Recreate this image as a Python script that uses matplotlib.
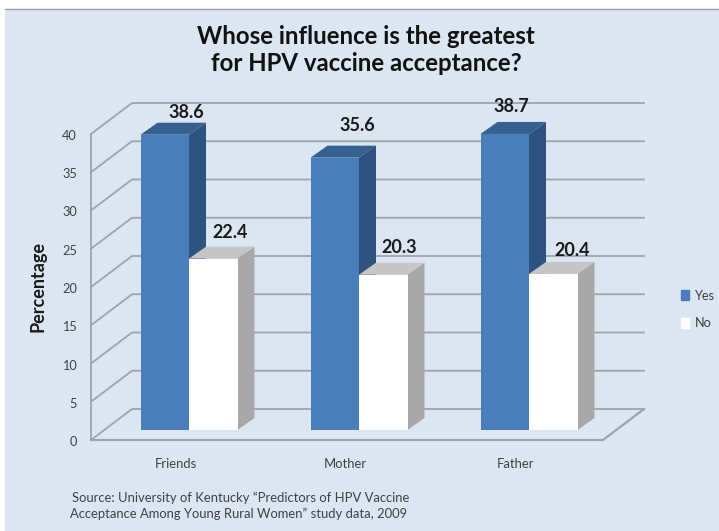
import matplotlib
matplotlib.use("Agg")
import matplotlib.pyplot as plt
from matplotlib.patches import Patch, Rectangle

categories = ["Friends", "Mother", "Father"]
yes_values = [38.6, 35.6, 38.7]
no_values = [22.4, 20.3, 20.4]
y_ticks = [0, 5, 10, 15, 20, 25, 30, 35, 40]

W, H = 719, 531
PX_X = 170.0          # pixels per category
PX_Y = 7.65           # pixels per percent
X0, Y0 = 189.0, 430.0 # pixel of category 0 / of value 0 on the bar plane

def dx(px):
    return px / PX_X

def dy(px):
    return px / PX_Y

BG = "#dce6f2"
GRID = "#a0a4a9"
TXT = "#1a1a1a"
SOFT = "#404040"
plt.rcParams["font.family"] = ["Lato", "DejaVu Sans"]

fig = plt.figure(figsize=(W / 100, H / 100), dpi=100, facecolor="white")
ax = fig.add_axes([0, 0, 1, 1])
ax.set_xlim(-X0 / PX_X, (W - X0) / PX_X)
ax.set_ylim((Y0 - H) / PX_Y, Y0 / PX_Y)
ax.axis("off")

fig.patches.append(Rectangle((5 / W, 0), 1, 1 - 9 / H, transform=fig.transFigure,
                             facecolor=BG, edgecolor="none", zorder=-5))
fig.add_artist(plt.Line2D([5 / W, 1], [1 - 9 / H, 1 - 9 / H], color="#9a9da3", lw=1.0))

# walls
wall_l = dx(91 - X0)
wall_r = dx(603 - X0)
depth_x = dx(41)
front_y = dy(-10)
back_y = dy(21)
for v in y_ticks:
    ax.plot([wall_l, wall_l + depth_x, wall_r + depth_x],
            [v + front_y, v + back_y, v + back_y], color=GRID, lw=1.3, zorder=1,
            solid_joinstyle="miter")
    ax.text(wall_l - dx(14), v + front_y - dy(2), str(v), ha="right", va="center",
            fontsize=9.2, color=SOFT)
ax.plot([wall_l, wall_l], [front_y, y_ticks[-1] + front_y], color=GRID, lw=1.3, zorder=1)
ax.plot([wall_l, wall_r, wall_r + depth_x], [front_y, front_y, back_y], color=GRID, lw=1.6, zorder=1)

# bars
bw = dx(48.5)
bdx = dx(17)
bdy = dy(12)

def bar3d(left, val, cf, ct, cs, z):
    ax.bar(left, val, width=bw, bottom=0, align="edge", color=cf, edgecolor="none", zorder=z + .2)
    ax.fill([left, left + bw, left + bw + bdx, left + bdx],
            [val, val, val + bdy, val + bdy], color=ct, lw=0, zorder=z)
    ax.fill([left + bw, left + bw + bdx, left + bw + bdx, left + bw],
            [0, bdy, val + bdy, val], color=cs, lw=0, zorder=z)

yes_off = [(22, 22), (23, 32), (7, 27)]
no_off = [(17, 26), (16, 27), (19, 23)]
for i, (y, n) in enumerate(zip(yes_values, no_values)):
    bar3d(i - bw, y, "#4a7ebb", "#36608f", "#2f5381", 3)
    bar3d(i, n, "#ffffff", "#c6c6c6", "#a8a8a8", 4)
    for left, val, off in ((i - bw, y, yes_off[i]), (i, n, no_off[i])):
        ax.annotate(f"{val:.1f}", (left + bw / 2, val), xytext=(off[0] * .72, off[1] * .72),
                    textcoords="offset points", ha="center", va="center",
                    fontsize=13, fontweight="bold", color=TXT, zorder=10)
    ax.text(i - dx(13.5), dy(Y0 - 464), categories[i], ha="center", va="center",
            fontsize=9.4, color=SOFT)

ax.text(dx(366 - X0), dy(Y0 - 36.5), "Whose influence is the greatest", ha="center", va="center",
        fontsize=17.3, fontweight="bold", color="#111111")
ax.text(dx(366 - X0), dy(Y0 - 63.5), "for HPV vaccine acceptance?", ha="center", va="center",
        fontsize=17.3, fontweight="bold", color="#111111")
ax.text(dx(37.5 - X0), dy(Y0 - 287), "Percentage", rotation=90, ha="center", va="center",
        fontsize=13, fontweight="bold", color=TXT)
ax.text(dx(72 - X0), dy(Y0 - 498), "Source: University of Kentucky \u201cPredictors of HPV Vaccine",
        ha="left", va="center", fontsize=9.4, color=SOFT)
ax.text(dx(70 - X0), dy(Y0 - 514), "Acceptance Among Young Rural Women\u201d study data, 2009",
        ha="left", va="center", fontsize=9.4, color=SOFT)

ax.legend(handles=[Patch(color="#4a7ebb", label="Yes"), Patch(color="#ffffff", label="No")],
          loc="center left", bbox_to_anchor=(669 / W, 1 - 309.5 / H), frameon=False,
          fontsize=9.2, handlelength=0.7, handleheight=0.8, handletextpad=0.4,
          labelspacing=1.25, labelcolor=SOFT)

fig.savefig("out.png", dpi=100)
